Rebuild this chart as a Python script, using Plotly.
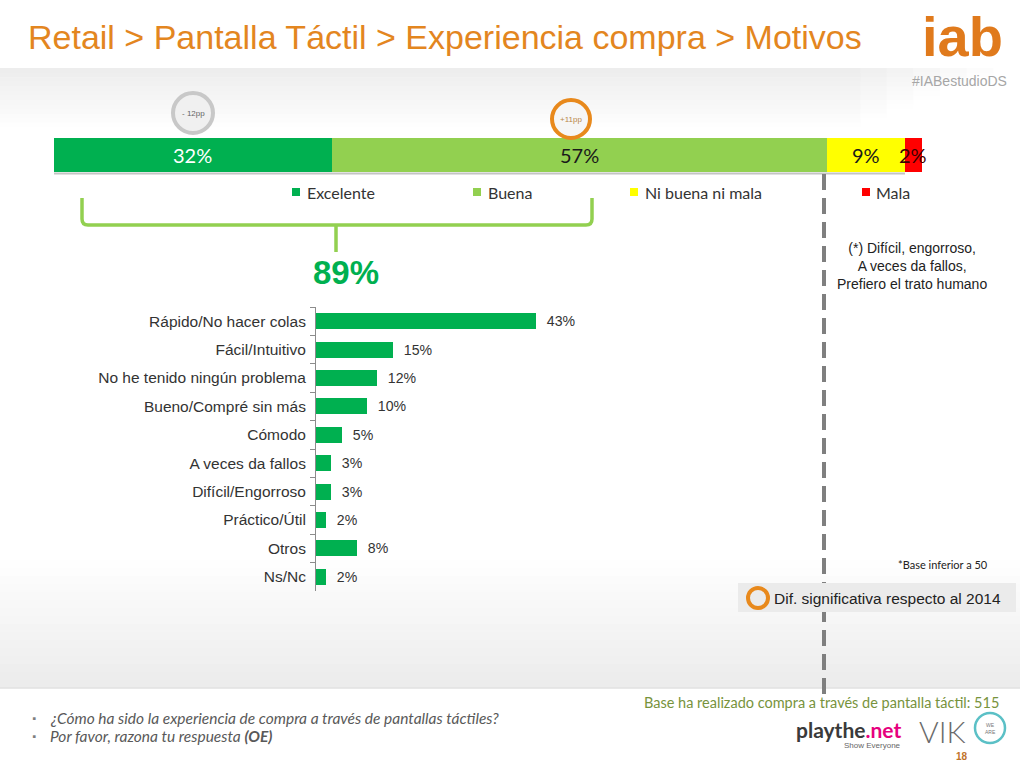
import plotly.graph_objects as go

W, H = 1020, 765

# ---------------- data ----------------
top_cats = ["Excelente", "Buena", "Ni buena ni mala", "Mala"]
top_vals = [32, 57, 9, 2]
top_colors = ["#00b050", "#92d050", "#ffff00", "#ff0000"]
top_label_colors = ["#ffffff", "#1a1a1a", "#1a1a1a", "#3a0000"]

motivos = ["Rápido/No hacer colas", "Fácil/Intuitivo", "No he tenido ningún problema",
           "Bueno/Compré sin más", "Cómodo", "A veces da fallos", "Difícil/Engorroso",
           "Práctico/Útil", "Otros", "Ns/Nc"]
motivos_vals = [43, 15, 12, 10, 5, 3, 3, 2, 8, 2]

total_positive = 89

def px(x):
    return x / W

def py(y):
    return 1 - y / H

fig = go.Figure()

# ---------------- top stacked bar ----------------
for cat, v, c in zip(top_cats, top_vals, top_colors):
    fig.add_trace(go.Bar(
        y=["total"], x=[v], orientation="h", name=cat, width=1,
        marker=dict(color=c, line=dict(width=0)),
        xaxis="x", yaxis="y", showlegend=False, hoverinfo="x+name",
    ))

# ---------------- bottom bar chart ----------------
fig.add_trace(go.Bar(
    y=motivos, x=motivos_vals, orientation="h", width=0.56,
    marker=dict(color="#00b050", line=dict(width=0)),
    text=[f"  {v}%" for v in motivos_vals], textposition="outside",
    textfont=dict(family="Liberation Sans", size=15, color="#333333"),
    cliponaxis=False, xaxis="x2", yaxis="y2", showlegend=False,
))

shapes = []

def lerp(c1, c2, t):
    return "#%02x%02x%02x" % tuple(int(round(a + (b - a) * t)) for a, b in zip(c1, c2))

top_gray = (237, 237, 237)
white = (255, 255, 255)
n = 14
y0, y1 = 68, 132
for i in range(n):
    ya = y0 + (y1 - y0) * i / n
    yb = y0 + (y1 - y0) * (i + 1) / n + 0.5
    t = i / (n - 1)
    cols = 6
    for j in range(cols):
        xa = 860 + (1020 - 860) * j / cols
        xb = 860 + (1020 - 860) * (j + 1) / cols + 0.5
        tt = min(1, t + (j + 1) / cols)
        shapes.append(dict(type="rect", xref="paper", yref="paper", layer="below",
                           x0=px(xa), x1=px(xb), y0=py(yb), y1=py(ya),
                           fillcolor=lerp(top_gray, white, tt), line=dict(width=0)))
    shapes.append(dict(type="rect", xref="paper", yref="paper", layer="below",
                       x0=0, x1=px(860.5), y0=py(yb), y1=py(ya),
                       fillcolor=lerp(top_gray, white, t), line=dict(width=0)))

bot_gray = (236, 236, 236)
n = 16
y0, y1 = 560, 688
for i in range(n):
    ya = y0 + (y1 - y0) * i / n
    yb = y0 + (y1 - y0) * (i + 1) / n + 0.5
    t = (i + 1) / n
    shapes.append(dict(type="rect", xref="paper", yref="paper", layer="below",
                       x0=0, x1=1, y0=py(yb), y1=py(ya),
                       fillcolor=lerp(white, bot_gray, t), line=dict(width=0)))
shapes.append(dict(type="line", xref="paper", yref="paper", layer="below",
                   x0=0, x1=1, y0=py(688), y1=py(688), line=dict(color="#dcdcdc", width=1)))

# shadow under the top bar
shapes.append(dict(type="line", xref="paper", yref="paper", x0=px(54), x1=px(905),
                   y0=py(173.5), y1=py(173.5), line=dict(color="#c4c4c4", width=2)))

# dashed vertical line
shapes.append(dict(type="line", xref="paper", yref="paper", x0=px(824), x1=px(824),
                   y0=py(174), y1=py(700), line=dict(color="#7f7f7f", width=4, dash="16px,8px")))

# bracket
bracket = (f"M {px(82)} {py(198)} L {px(82)} {py(219)} Q {px(82)} {py(225)} {px(88)} {py(225)} "
           f"L {px(586)} {py(225)} Q {px(592)} {py(225)} {px(592)} {py(219)} L {px(592)} {py(198)} "
           f"M {px(336)} {py(225)} L {px(336)} {py(252)}")
shapes.append(dict(type="path", xref="paper", yref="paper", path=bracket,
                   line=dict(color="#92d050", width=3.5)))

def circle(cx, cy, r, line_color, lw, fill):
    return dict(type="circle", xref="paper", yref="paper",
                x0=px(cx - r), x1=px(cx + r), y0=py(cy + r), y1=py(cy - r),
                line=dict(color=line_color, width=lw), fillcolor=fill)

shapes.append(circle(193, 113, 20, "#c8c8c8", 4, "#f0f0f0"))
shapes.append(circle(571, 119, 19, "#e8891c", 4, "#f6f6f6"))

# legend squares
legend_pos = [(296, 305), (477, 486), (634, 643), (866, 874)]
for (sx, tx), c in zip(legend_pos, top_colors):
    shapes.append(dict(type="rect", xref="paper", yref="paper",
                       x0=px(sx - 4), x1=px(sx + 4), y0=py(196), y1=py(188),
                       fillcolor=c, line=dict(width=0)))

# significance box
shapes.append(dict(type="rect", xref="paper", yref="paper", x0=px(738), x1=px(1016),
                   y0=py(612), y1=py(583), fillcolor="#ebebeb", line=dict(width=0)))
shapes.append(circle(758, 598, 10, "#e8891c", 4, "rgba(0,0,0,0)"))

# VIKO ring
shapes.append(circle(990, 728, 15, "#5bc0c6", 2.5, "rgba(0,0,0,0)"))

fig.update_layout(shapes=shapes)

ann = []

def text(x, y, s, size=14, color="#333333", family="Liberation Sans", xanchor="left",
         yanchor="middle", align="left", weight=None, **kw):
    f = dict(size=size, color=color, family=family)
    if weight is not None:
        f["weight"] = weight
    ann.append(dict(x=px(x), y=py(y), xref="paper", yref="paper", text=s, showarrow=False,
                    font=f, xanchor=xanchor, yanchor=yanchor, align=align, **kw))

# top bar labels from data
cum = 0
for v, lc in zip(top_vals, top_label_colors):
    ann.append(dict(x=cum + v / 2, y="total", xref="x", yref="y", text=f"{v}%", showarrow=False,
                    font=dict(size=20, color=lc, family="Lato"), xanchor="center", yanchor="middle"))
    cum += v

# title
text(26, 37, "Retail > Pantalla Táctil > Experiencia compra > Motivos", size=34, color="#e3861f")
# iab logo
text(962, 36, "<b>iab</b>", size=56, color="#e07a1c", family="Liberation Sans", xanchor="center")
text(1009, 81, "#IABestudioDS", size=14, color="#a6a6a6", xanchor="right")

# circle texts
text(193, 113, "- 12pp", size=8, color="#666666", xanchor="center")
text(571, 119, "+11pp", size=8, color="#b8874a", xanchor="center")

# legend texts
for (sx, tx), cat in zip(legend_pos, top_cats):
    text(tx, 192, cat, size=16, color="#333333", family="Lato")

# 89%
text(346, 272, f"<b>{total_positive}%</b>", size=33, color="#00b050", xanchor="center")

# note
text(912, 266, "(*) Difícil, engorroso,<br>A veces da fallos,<br>Prefiero el trato humano",
     size=14, color="#222222", xanchor="center", align="center")
text(990, 564, "*Base inferior a 50", size=11, color="#222222", family="Lato", xanchor="right")
text(772, 598, "Dif. significativa respecto al 2014", size=15.5, color="#222222")

# footer
text(30, 718, "▪", size=10, color="#7f7f7f", family="Lato")
text(30, 736, "▪", size=10, color="#7f7f7f", family="Lato")
text(48, 718, "<i>¿Cómo ha sido la experiencia de compra a través de pantallas táctiles?</i>",
     size=15.5, color="#595959", family="Lato")
text(48, 736, "<i>Por favor, razona tu respuesta <b>(OE)</b></i>", size=15.5, color="#595959", family="Lato")
text(1001, 702, "Base ha realizado compra a través de pantalla táctil: 515", size=14.5,
     color="#77933c", family="Lato", xanchor="right")
text(848, 729, "<b>playthe</b><b style='color:#e6007e'>.net</b>", size=21, color="#3a3a3a",
     family="Lato", xanchor="center")
text(872, 745, "Show Everyone", size=8, color="#666666", xanchor="center")
text(942, 731, "VIK", size=30, color="#6b6b6b", family="Lato", xanchor="center", weight=300)
text(990, 728, "WE<br>ARE", size=5, color="#777777", xanchor="center", align="center")
text(962, 756, "<b>18</b>", size=10, color="#c0722a", xanchor="center")

fig.update_layout(annotations=ann)

fig.update_layout(
    width=W, height=H, margin=dict(l=0, r=0, t=0, b=0),
    paper_bgcolor="#ffffff", plot_bgcolor="rgba(0,0,0,0)",
    barmode="stack", bargap=0,
    xaxis=dict(domain=[px(54), px(922)], range=[0, 100], visible=False, fixedrange=True),
    yaxis=dict(domain=[py(172), py(138)], range=[-0.5, 0.5], visible=False, fixedrange=True),
    xaxis2=dict(domain=[px(316), px(572)], range=[0, 50], visible=False, anchor="y2"),
    yaxis2=dict(domain=[py(591), py(307)], anchor="x2", type="category",
                categoryorder="array", categoryarray=motivos, autorange="reversed",
                showline=True, linecolor="#8c8c8c", linewidth=1,
                ticks="outside", tickson="boundaries", ticklen=5, tickcolor="#8c8c8c",
                ticklabelstandoff=6,
                tickfont=dict(family="Liberation Sans", size=15.5, color="#333333"),
                showgrid=False, zeroline=False),
    font=dict(family="Liberation Sans"),
)

fig.write_html("out.html")
